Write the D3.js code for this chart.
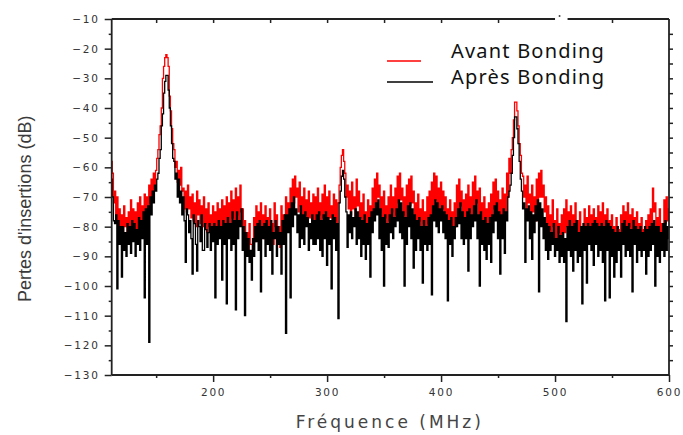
<!DOCTYPE html>
<html>
<head>
<meta charset="utf-8">
<script src="https://cdn.jsdelivr.net/npm/d3@7"></script>
<style>
  body { margin: 0; background: #fff; }
  svg { display: block; }
</style>
</head>
<body>
<svg id="chart" width="683" height="435"></svg>
<script>
// spectrum sampled every 1 MHz from 110 to 600 MHz
var freqStart = 110;
var freqStep = 1;

// Avant Bonding (dB), one row = 10 MHz
var avantBonding = [
  -51, -58, -62, -72, -68, -78, -70, -80, -74, -82,
  -76, -84, -73, -80, -77, -85, -75, -82, -71, -79,
  -74, -83, -75, -81, -72, -80, -70, -78, -73, -80,
  -69, -77, -70, -75, -66, -72, -64, -70, -62, -67,
  -61, -57, -54, -49, -46, -40, -30, -26, -23, -22,
  -23, -26, -36, -41, -47, -52, -54, -60, -58, -65,
  -61, -66, -60, -68, -67, -74, -68, -75, -66, -74,
  -70, -77, -69, -78, -72, -80, -68, -76, -71, -79,
  -73, -80, -70, -79, -74, -82, -72, -80, -76, -84,
  -73, -81, -75, -83, -72, -80, -74, -82, -71, -80,
  -73, -82, -70, -79, -72, -81, -68, -77, -71, -79,
  -67, -76, -70, -78, -66, -75, -74, -82, -78, -86,
  -82, -88, -79, -86, -86, -90, -77, -85, -73, -82,
  -75, -83, -72, -80, -76, -84, -73, -81, -77, -85,
  -74, -82, -79, -86, -72, -80, -76, -84, -80, -87,
  -73, -82, -76, -83, -70, -78, -72, -80, -67, -75,
  -64, -72, -63, -70, -67, -75, -65, -73, -70, -78,
  -67, -76, -71, -79, -68, -77, -72, -80, -69, -78,
  -70, -78, -67, -76, -72, -80, -69, -77, -66, -75,
  -70, -79, -68, -77, -73, -81, -69, -78, -71, -80,
  -72, -66, -60, -56, -54, -58, -62, -70, -66, -74,
  -68, -76, -65, -74, -70, -78, -64, -73, -68, -77,
  -72, -80, -69, -78, -75, -82, -71, -80, -73, -81,
  -67, -75, -64, -72, -62, -70, -66, -75, -70, -78,
  -68, -77, -73, -81, -70, -78, -66, -75, -70, -79,
  -67, -76, -63, -72, -62, -71, -67, -76, -70, -79,
  -66, -75, -64, -73, -63, -72, -68, -77, -72, -80,
  -69, -78, -74, -82, -71, -79, -75, -83, -70, -79,
  -68, -77, -65, -74, -62, -71, -63, -72, -67, -76,
  -65, -74, -68, -77, -70, -78, -74, -82, -71, -80,
  -75, -83, -72, -80, -66, -75, -64, -73, -68, -77,
  -71, -79, -69, -78, -66, -75, -70, -78, -65, -74,
  -63, -72, -68, -77, -67, -76, -72, -80, -70, -79,
  -74, -82, -72, -80, -69, -78, -65, -74, -64, -73,
  -68, -77, -71, -79, -67, -76, -69, -77, -62, -70,
  -57, -62, -54, -50, -44, -38, -38, -41, -46, -52,
  -56, -62, -63, -70, -66, -74, -63, -72, -69, -77,
  -66, -75, -70, -78, -64, -73, -62, -70, -61, -70,
  -66, -75, -70, -79, -73, -81, -76, -84, -71, -80,
  -78, -85, -74, -82, -79, -86, -76, -84, -74, -82,
  -71, -80, -75, -83, -73, -81, -76, -84, -72, -81,
  -78, -85, -75, -83, -80, -87, -74, -82, -77, -84,
  -73, -82, -76, -84, -74, -82, -77, -85, -73, -81,
  -75, -83, -72, -80, -76, -84, -74, -82, -78, -86,
  -76, -84, -80, -87, -77, -85, -81, -88, -76, -84,
  -73, -82, -75, -83, -72, -80, -76, -84, -74, -82,
  -77, -85, -75, -83, -79, -86, -77, -85, -81, -88,
  -78, -86, -76, -84, -74, -82, -67, -75, -72, -80,
  -77, -85, -74, -82, -79, -86, -71, -79, -70, -78,
  -74
];

// Après Bonding (dB), one row = 10 MHz
var apresBonding = [
  -57, -64, -70, -78, -79, -76, -101, -78, -86, -80,
  -97, -80, -88, -82, -90, -79, -86, -80, -89, -78,
  -85, -79, -90, -81, -86, -77, -88, -78, -84, -75,
  -104, -74, -86, -73, -119, -70, -76, -68, -72, -66,
  -68, -64, -62, -57, -54, -46, -42, -35, -31, -29,
  -29, -34, -40, -46, -52, -57, -58, -64, -62, -70,
  -64, -72, -68, -76, -70, -78, -92, -74, -76, -82,
  -78, -84, -96, -76, -79, -86, -95, -78, -80, -85,
  -76, -88, -88, -79, -81, -87, -82, -79, -88, -80,
  -85, -79, -104, -80, -86, -78, -84, -80, -98, -78,
  -86, -79, -106, -77, -84, -79, -88, -75, -86, -78,
  -108, -75, -84, -78, -80, -74, -88, -80, -110, -82,
  -90, -84, -92, -88, -98, -84, -90, -80, -85, -79,
  -88, -78, -102, -80, -84, -79, -90, -78, -86, -80,
  -88, -78, -96, -82, -84, -78, -90, -80, -86, -82,
  -96, -78, -86, -76, -116, -76, -82, -74, -104, -72,
  -80, -70, -76, -74, -82, -76, -87, -73, -84, -76,
  -86, -75, -80, -77, -88, -79, -84, -76, -86, -78,
  -86, -76, -84, -75, -88, -78, -90, -76, -84, -75,
  -93, -77, -86, -78, -101, -76, -84, -77, -88, -79,
  -111, -72, -68, -63, -61, -64, -70, -75, -87, -76,
  -82, -75, -84, -77, -80, -74, -86, -75, -84, -77,
  -90, -78, -86, -76, -91, -79, -86, -77, -97, -75,
  -82, -74, -78, -72, -76, -71, -84, -74, -88, -77,
  -100, -76, -86, -79, -87, -76, -82, -74, -84, -77,
  -80, -74, -78, -71, -82, -72, -84, -75, -100, -77,
  -86, -73, -80, -72, -84, -74, -94, -76, -88, -78,
  -84, -77, -88, -80, -99, -78, -86, -80, -88, -77,
  -86, -76, -103, -73, -78, -71, -80, -72, -82, -74,
  -78, -73, -82, -75, -84, -76, -105, -78, -86, -77,
  -90, -80, -84, -77, -80, -74, -79, -72, -84, -75,
  -86, -77, -84, -75, -95, -74, -84, -76, -80, -73,
  -78, -71, -84, -76, -100, -75, -86, -78, -88, -77,
  -91, -79, -86, -77, -92, -76, -82, -73, -78, -72,
  -84, -75, -96, -76, -84, -74, -89, -75, -78, -70,
  -68, -66, -62, -56, -50, -43, -43, -47, -52, -58,
  -64, -68, -74, -72, -92, -74, -78, -73, -84, -75,
  -91, -76, -82, -73, -78, -71, -102, -72, -80, -74,
  -84, -77, -88, -79, -91, -80, -88, -82, -86, -79,
  -90, -84, -88, -80, -92, -83, -90, -82, -92, -84,
  -112, -80, -88, -78, -90, -80, -95, -79, -88, -78,
  -92, -82, -90, -80, -106, -79, -88, -80, -99, -79,
  -86, -80, -88, -79, -93, -78, -86, -79, -90, -80,
  -88, -79, -92, -80, -105, -78, -88, -79, -104, -80,
  -90, -81, -97, -82, -92, -80, -88, -82, -97, -79,
  -86, -78, -90, -80, -88, -79, -90, -81, -102, -78,
  -86, -80, -92, -81, -88, -80, -90, -82, -88, -80,
  -96, -81, -90, -80, -88, -79, -86, -78, -100, -80,
  -90, -80, -92, -82, -88, -79, -90, -78, -88, -80,
  -84
];

var xTicks = [200, 300, 400, 500, 600];
var yTicks = [-130, -120, -110, -100, -90, -80, -70, -60, -50, -40, -30, -20, -10];

var width = 683, height = 435;
var margin = {top: 19, right: 14, bottom: 60, left: 111.7};

var svg = d3.select('#chart');

var x = d3.scaleLinear()
  .domain([111, 600])
  .range([margin.left, width - margin.right]);

var y = d3.scaleLinear()
  .domain([-130, -10])
  .range([height - margin.bottom, margin.top]);

var x0 = margin.left, x1 = width - margin.right;
var y0 = height - margin.bottom, y1 = margin.top;

function toPoints(values){
  return values.map(function(v, i){ return {f: freqStart + i * freqStep, v: v}; });
}

svg.append('clipPath').attr('id', 'plot-clip')
  .append('rect')
  .attr('x', x0).attr('y', y1 - 2)
  .attr('width', x1 - x0).attr('height', y0 - y1 + 2);

// the scan looks like a staircase trace
var line = d3.line()
  .x(function(d){ return x(d.f); })
  .y(function(d){ return y(d.v); })
  .curve(d3.curveStep);

var plot = svg.append('g').attr('clip-path', 'url(#plot-clip)');

plot.append('path')
  .datum(toPoints(avantBonding))
  .attr('d', line)
  .attr('fill', 'none')
  .attr('stroke', '#ff0000')
  .attr('stroke-width', 1.3);

plot.append('path')
  .datum(toPoints(apresBonding))
  .attr('d', line)
  .attr('fill', 'none')
  .attr('stroke', '#000')
  .attr('stroke-width', 1.3);

// axes
var axisColor = '#222';

// left axis, ticks outward
var yAxis = d3.axisLeft(y)
  .tickValues(yTicks)
  .tickSize(7)
  .tickPadding(5)
  .tickFormat(d3.format('d'));

svg.append('g')
  .attr('transform', 'translate(' + x0 + ',0)')
  .call(yAxis);

var yMinor = d3.axisLeft(y)
  .tickValues(d3.range(-125, -10, 10))
  .tickSize(3)
  .tickFormat('');
svg.append('g').attr('transform', 'translate(' + x0 + ',0)').call(yMinor);

// bottom axis, ticks outward
var xAxis = d3.axisBottom(x)
  .tickValues(xTicks)
  .tickSize(7)
  .tickPadding(7)
  .tickFormat(d3.format('d'));

svg.append('g')
  .attr('transform', 'translate(0,' + y0 + ')')
  .call(xAxis);

var xMinor = d3.axisBottom(x)
  .tickValues([150, 250, 350, 450, 550])
  .tickSize(3)
  .tickFormat('');
svg.append('g').attr('transform', 'translate(0,' + y0 + ')').call(xMinor);

// top axis, ticks pointing down into the plot
var xTop = d3.axisBottom(x)
  .tickValues([150, 200, 250, 300, 350, 400, 450, 550])
  .tickSize(4)
  .tickFormat('');
svg.append('g').attr('transform', 'translate(0,' + y1 + ')').call(xTop);

// right axis, ticks pointing left into the plot
var yRight = d3.axisLeft(y)
  .tickValues(d3.range(-125, -10, 5))
  .tickSize(-4)
  .tickFormat('');
svg.append('g').attr('transform', 'translate(' + x1 + ',0)').call(yRight);

svg.selectAll('.domain').remove();
svg.selectAll('.tick line')
  .attr('stroke', axisColor)
  .attr('stroke-width', 1.5);

svg.selectAll('.tick text')
  .attr('fill', '#333')
  .style('font-family', 'DejaVu Sans, sans-serif')
  .style('font-size', '10.5px')
  .style('letter-spacing', '1.8px');

// frame lines (top has a small break near 500-510 MHz as in the scan)
var frame = svg.append('g')
  .attr('stroke', axisColor)
  .attr('stroke-width', 1.8)
  .attr('fill', 'none');
frame.append('line').attr('x1', x0).attr('x2', x0).attr('y1', y1).attr('y2', y0);
frame.append('line').attr('x1', x0).attr('x2', x1).attr('y1', y0).attr('y2', y0);
frame.append('line').attr('x1', x1).attr('x2', x1).attr('y1', y1).attr('y2', y0);
frame.append('line').attr('x1', x0).attr('x2', x(500)).attr('y1', y1).attr('y2', y1);
frame.append('line').attr('x1', x(511)).attr('x2', x1).attr('y1', y1).attr('y2', y1);
svg.append('circle').attr('cx', x(504)).attr('cy', y1 - 3).attr('r', 1).attr('fill', '#444');

// axis titles
svg.append('text')
  .attr('x', x(355))
  .attr('y', 428)
  .attr('text-anchor', 'middle')
  .attr('fill', '#444')
  .style('font-family', 'DejaVu Sans, sans-serif')
  .style('font-size', '17px')
  .style('letter-spacing', '3px')
  .text('Fréquence (MHz)');

svg.append('text')
  .attr('transform', 'translate(31,' + y(-74) + ') rotate(-90)')
  .attr('text-anchor', 'middle')
  .attr('fill', '#3a3a3a')
  .style('font-family', 'Liberation Sans, Arial, sans-serif')
  .style('font-size', '18px')
  .text("Pertes d'insertions (dB)");

// legend
var legend = [
  {name: 'Avant Bonding', color: '#ff0000', len: 34, ly: 61, ty: 58},
  {name: 'Après Bonding', color: '#000', len: 46, ly: 82, ty: 84}
];
legend.forEach(function(d){
  svg.append('line')
    .attr('x1', 387).attr('x2', 387 + d.len)
    .attr('y1', d.ly).attr('y2', d.ly)
    .attr('stroke', d.color)
    .attr('stroke-width', 1.5);
  svg.append('text')
    .attr('x', 451)
    .attr('y', d.ty)
    .attr('fill', '#111')
    .style('font-family', 'Noto Sans, Open Sans, sans-serif')
    .style('font-size', '20px')
    .style('letter-spacing', '1.2px')
    .text(d.name);
});
</script>
</body>
</html>
